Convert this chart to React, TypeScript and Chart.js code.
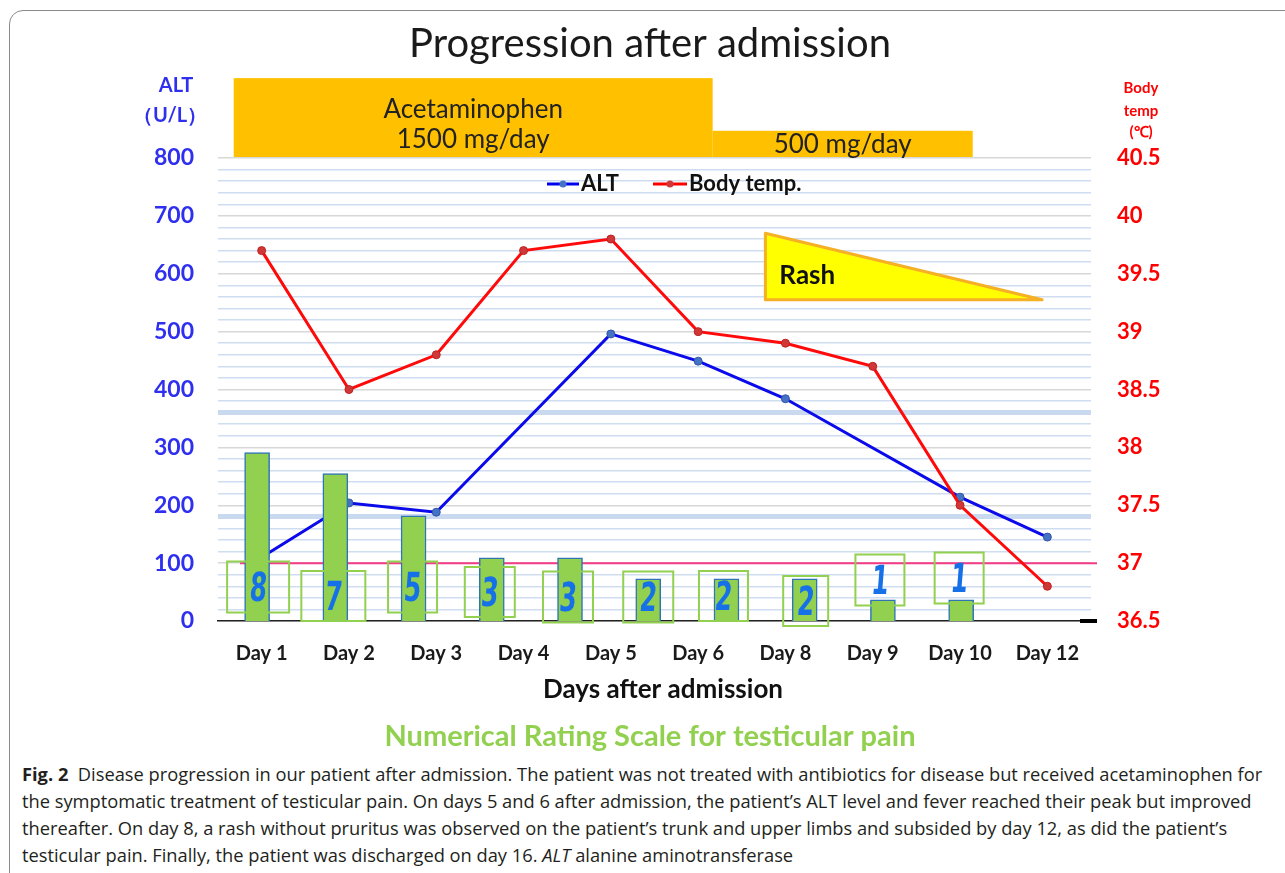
import React, { useEffect, useRef } from "react";
import { Chart, registerables } from "chart.js";

Chart.register(...registerables);

// ---------- data ----------
const days = ["Day 1", "Day 2", "Day 3", "Day 4", "Day 5", "Day 6", "Day 8", "Day 9", "Day 10", "Day 12"];
const altValues: (number | null)[] = [110, 204, 188, null, 496, 449, 384, null, 214, 145];
const tempValues = [39.7, 38.5, 38.8, 39.7, 39.8, 39.0, 38.9, 38.7, 37.5, 36.8];
const painScores = [8, 7, 5, 3, 3, 2, 2, 2, 1, 1];
const altTicks = { min: 0, max: 800, step: 100 };
const tempTicks = { min: 36.5, max: 40.5, step: 0.5 };
const feverLine = 37;
const doseLabels = [["Acetaminophen", "1500 mg/day"], ["500 mg/day"]];
const doseSpans = [[-0.32, 5.166], [5.166, 8.145]]; // day-index spans
const rashSpan = [5.77, 8.94];
const rashAltRange = [555, 670];
const titleText = "Progression after admission";
const xTitleText = "Days after admission";
const painTitleText = "Numerical Rating Scale for testicular pain";

const FONT = 'Lato, "Open Sans", sans-serif';

export default function App() {
  const ref = useRef<HTMLCanvasElement>(null);

  useEffect(() => {
    const canvas = ref.current;
    if (!canvas) return;

    // visual styling for the hand-drawn pain boxes
    const boxStyle = [
      { w: 62, h: 51, dx: 1, dy: 34 },
      { w: 64, h: 50, dx: -2, dy: 25 },
      { w: 49, h: 51, dx: -1, dy: 34 },
      { w: 50, h: 50, dx: -2, dy: 29 },
      { w: 50, h: 51, dx: -2, dy: 24 },
      { w: 50, h: 51, dx: 0, dy: 24 },
      { w: 49, h: 50, dx: -3, dy: 25 },
      { w: 45, h: 50, dx: 1, dy: 20 },
      { w: 49, h: 51, dx: -3, dy: 41 },
      { w: 49, h: 51, dx: -2, dy: 43 },
    ];

    const decor = {
      id: "decor",
      beforeDatasetsDraw(chart: any) {
        const { ctx, chartArea } = chart;
        const x = chart.scales.x;
        const y = chart.scales.y;
        const yT = chart.scales.yT;
        ctx.save();
        // fever reference line
        const py = yT.getPixelForValue(feverLine);
        ctx.strokeStyle = "#F43B86";
        ctx.lineWidth = 2;
        ctx.beginPath();
        ctx.moveTo(chartArea.left + 22, py);
        ctx.lineTo(chartArea.right + 6, py);
        ctx.stroke();
        // rash triangle
        const rx0 = x.getPixelForValue(rashSpan[0]);
        const rx1 = x.getPixelForValue(rashSpan[1]);
        const ry0 = y.getPixelForValue(rashAltRange[1]);
        const ry1 = y.getPixelForValue(rashAltRange[0]);
        ctx.beginPath();
        ctx.moveTo(rx0, ry0);
        ctx.lineTo(rx0, ry1);
        ctx.lineTo(rx1, ry1);
        ctx.closePath();
        ctx.fillStyle = "#FFFF00";
        ctx.fill();
        ctx.strokeStyle = "#F5B025";
        ctx.lineWidth = 3;
        ctx.lineJoin = "round";
        ctx.stroke();
        ctx.fillStyle = "#111";
        ctx.font = `bold 26px ${FONT}`;
        ctx.textBaseline = "middle";
        ctx.textAlign = "left";
        ctx.fillText("Rash", rx0 + 14, ry1 - 24);
        ctx.restore();
      },
      afterDatasetsDraw(chart: any) {
        const { ctx, chartArea } = chart;
        const xp = chart.scales.xPain;
        ctx.save();
        // pain boxes + numbers
        painScores.forEach((v, i) => {
          const s = boxStyle[i];
          const cx = xp.getPixelForValue(i) + s.dx;
          const cy = chartArea.bottom - s.dy;
          ctx.strokeStyle = "#92D050";
          ctx.lineWidth = 2;
          ctx.strokeRect(cx - s.w / 2, cy - s.h / 2, s.w, s.h);
          ctx.save();
          ctx.translate(cx, cy + 4);
          ctx.transform(0.62, 0, -0.08, 1, 0, 0);
          ctx.fillStyle = "#1670E8";
          ctx.font = `bold 40px "DejaVu Sans", ${FONT}`;
          ctx.textAlign = "center";
          ctx.textBaseline = "middle";
          ctx.fillText(String(v), 0, 0);
          ctx.restore();
        });
        // x-axis end mark
        ctx.strokeStyle = "#000";
        ctx.lineWidth = 4;
        ctx.beginPath();
        ctx.moveTo(chartArea.right - 11, chartArea.bottom);
        ctx.lineTo(chartArea.right + 6, chartArea.bottom);
        ctx.stroke();
        ctx.restore();
      },
      afterDraw(chart: any) {
        const { ctx, chartArea } = chart;
        const x = chart.scales.x;
        const y = chart.scales.y;
        ctx.save();
        // title
        ctx.fillStyle = "#1a1a1a";
        ctx.font = `40px ${FONT}`;
        ctx.textAlign = "center";
        ctx.textBaseline = "middle";
        ctx.fillText(titleText, 650, 44);
        // dose boxes
        const top1 = y.getPixelForValue(938);
        const top2 = y.getPixelForValue(847);
        const bottom = chartArea.top - 1;
        ctx.fillStyle = "#FFC000";
        const a0 = x.getPixelForValue(doseSpans[0][0]);
        const a1 = x.getPixelForValue(doseSpans[0][1]);
        const b1 = x.getPixelForValue(doseSpans[1][1]);
        ctx.fillRect(a0, top1, a1 - a0, bottom - top1);
        ctx.fillRect(a1, top2, b1 - a1, bottom - top2);
        ctx.fillStyle = "#222";
        ctx.font = `26px ${FONT}`;
        const cA = (a0 + a1) / 2;
        ctx.fillText(doseLabels[0][0], cA, top1 + 31);
        ctx.fillText(doseLabels[0][1], cA, top1 + 61);
        ctx.fillText(doseLabels[1][0], (a1 + b1) / 2, top2 + 14);
        // axis titles
        ctx.fillStyle = "#2F2FEF";
        ctx.font = `bold 20px ${FONT}`;
        ctx.fillText("ALT", 176, 86);
        ctx.fillText("（U/L）", 170, 116);
        ctx.fillStyle = "#FF0000";
        ctx.font = `bold 15px ${FONT}`;
        ctx.fillText("Body", 1141, 88);
        ctx.fillText("temp", 1141, 111);
        ctx.fillText("(℃)", 1141, 132);
        // legend
        const ly = 184;
        const items = [
          { label: "ALT", color: "#0000F0", point: "#4472C4", x0: 547, x1: 579, tx: 581 },
          { label: "Body temp.", color: "#FF0000", point: "#D03838", x0: 653, x1: 687, tx: 689 },
        ];
        items.forEach((it) => {
          ctx.strokeStyle = it.color;
          ctx.lineWidth = 3;
          ctx.beginPath();
          ctx.moveTo(it.x0, ly);
          ctx.lineTo(it.x1, ly);
          ctx.stroke();
          ctx.fillStyle = it.point;
          ctx.beginPath();
          ctx.arc((it.x0 + it.x1) / 2, ly, 3.5, 0, Math.PI * 2);
          ctx.fill();
          ctx.fillStyle = "#111";
          ctx.font = `bold 22px ${FONT}`;
          ctx.textAlign = "left";
          ctx.fillText(it.label, it.tx, ly);
        });
        // x-axis title
        ctx.textAlign = "center";
        ctx.fillStyle = "#111";
        ctx.font = `bold 26px ${FONT}`;
        ctx.fillText(xTitleText, 663, 690);
        // pain-scale caption
        ctx.fillStyle = "#92D050";
        ctx.font = `bold 29px ${FONT}`;
        ctx.fillText(painTitleText, 650, 737);
        ctx.restore();
      },
    };

    const chart = new Chart(canvas, {
      type: "line",
      data: {
        labels: days,
        datasets: [
          {
            type: "bar",
            label: "Pain",
            data: painScores.map((v, i) => ({ x: i, y: v })) as any,
            xAxisID: "xPain",
            yAxisID: "yPain",
            backgroundColor: "#92D050",
            borderColor: "#2E75B6",
            borderWidth: 1.5,
            barThickness: 25,
            grouped: false,
            order: 0,
          },
          {
            type: "line",
            label: "ALT",
            data: altValues,
            xAxisID: "x",
            yAxisID: "y",
            borderColor: "#0A0AEA",
            borderWidth: 3,
            pointRadius: 4,
            pointBackgroundColor: "#4472C4",
            pointBorderColor: "#3355AA",
            pointBorderWidth: 1,
            spanGaps: true,
            tension: 0,
            order: 2,
          },
          {
            type: "line",
            label: "Body temp.",
            data: tempValues,
            xAxisID: "x",
            yAxisID: "yT",
            borderColor: "#FF0A0A",
            borderWidth: 3,
            pointRadius: 4,
            pointBackgroundColor: "#D03838",
            pointBorderColor: "#C02020",
            pointBorderWidth: 1,
            tension: 0,
            order: 1,
          },
        ],
      },
      options: {
        animation: false,
        responsive: false,
        maintainAspectRatio: false,
        layout: { padding: { top: 158, bottom: 39, left: 0, right: 0 } },
        plugins: {
          legend: { display: false },
          tooltip: { enabled: false },
          title: { display: false },
        },
        scales: {
          x: {
            type: "category",
            position: "bottom",
            offset: true,
            grid: { display: false, drawTicks: false, offset: true },
            border: { color: "#222", width: 1.5 },
            ticks: {
              color: "#1a1a1a",
              font: { family: FONT, size: 20, weight: "bold" },
              padding: 21,
              maxRotation: 0,
              autoSkip: false,
            },
            afterFit: (s: any) => {
              s.height = 100;
            },
          },
          xPain: {
            type: "linear",
            display: false,
            offset: false,
            min: -0.5,
            max: 10.66,
          },
          y: {
            position: "left",
            min: altTicks.min,
            max: altTicks.max,
            ticks: {
              stepSize: 20,
              autoSkip: false,
              color: "#2F2FEF",
              font: { family: FONT, size: 23, weight: "bold" },
              padding: 24,
              callback: (v: any) => (v % altTicks.step === 0 ? String(v) : ""),
            },
            grid: {
              drawTicks: false,
              color: (c: any) => {
                const v = c.tick ? c.tick.value : 0;
                if (v === 180 || v === 360) return "#C9DAF0";
                return v % 100 === 0 ? "#D8D8D8" : "#CFDDF0";
              },
              lineWidth: (c: any) => {
                const v = c.tick ? c.tick.value : 0;
                return v === 180 || v === 360 ? 5 : 1.5;
              },
            },
            border: { display: false },
            afterFit: (s: any) => {
              s.width = 218;
            },
          },
          yT: {
            position: "right",
            min: tempTicks.min,
            max: tempTicks.max,
            ticks: {
              stepSize: tempTicks.step,
              autoSkip: false,
              color: "#FF0000",
              font: { family: FONT, size: 22, weight: "bold" },
              padding: 26,
              callback: (v: any) => String(Math.round(v * 10) / 10),
            },
            grid: { display: false, drawTicks: false },
            border: { display: false },
            afterFit: (s: any) => {
              s.width = 194;
            },
          },
          yPain: {
            display: false,
            min: 0,
            max: 22,
          },
        },
      },
      plugins: [decor],
    });

    return () => chart.destroy();
  }, []);

  const lineStyle: React.CSSProperties = { whiteSpace: "nowrap", height: 27, lineHeight: "27px" };

  return (
    <div
      style={{
        position: "absolute",
        left: 0,
        top: 0,
        width: 1285,
        height: 873,
        overflow: "hidden",
        background: "#fff",
      }}
    >
      <div
        style={{
          position: "absolute",
          left: 9,
          top: 10,
          width: 1300,
          height: 900,
          border: "1.5px solid #8a8a8a",
          borderRadius: 14,
          boxSizing: "border-box",
        }}
      />
      <canvas ref={ref} width={1285} height={760} style={{ position: "absolute", left: 0, top: 0 }} />
      <div
        style={{
          position: "absolute",
          left: 22,
          top: 760,
          fontFamily: '"Open Sans", sans-serif',
          fontSize: 18.3,
          color: "#231f20",
        }}
      >
        <div style={lineStyle}>
          <b>Fig. 2</b>&nbsp; Disease progression in our patient after admission. The patient was not treated with antibiotics for disease but received acetaminophen for
        </div>
        <div style={lineStyle}>
          the symptomatic treatment of testicular pain. On days 5 and 6 after admission, the patient’s ALT level and fever reached their peak but improved
        </div>
        <div style={lineStyle}>
          thereafter. On day 8, a rash without pruritus was observed on the patient’s trunk and upper limbs and subsided by day 12, as did the patient’s
        </div>
        <div style={lineStyle}>
          testicular pain. Finally, the patient was discharged on day 16. <i>ALT</i> alanine aminotransferase
        </div>
      </div>
    </div>
  );
}
